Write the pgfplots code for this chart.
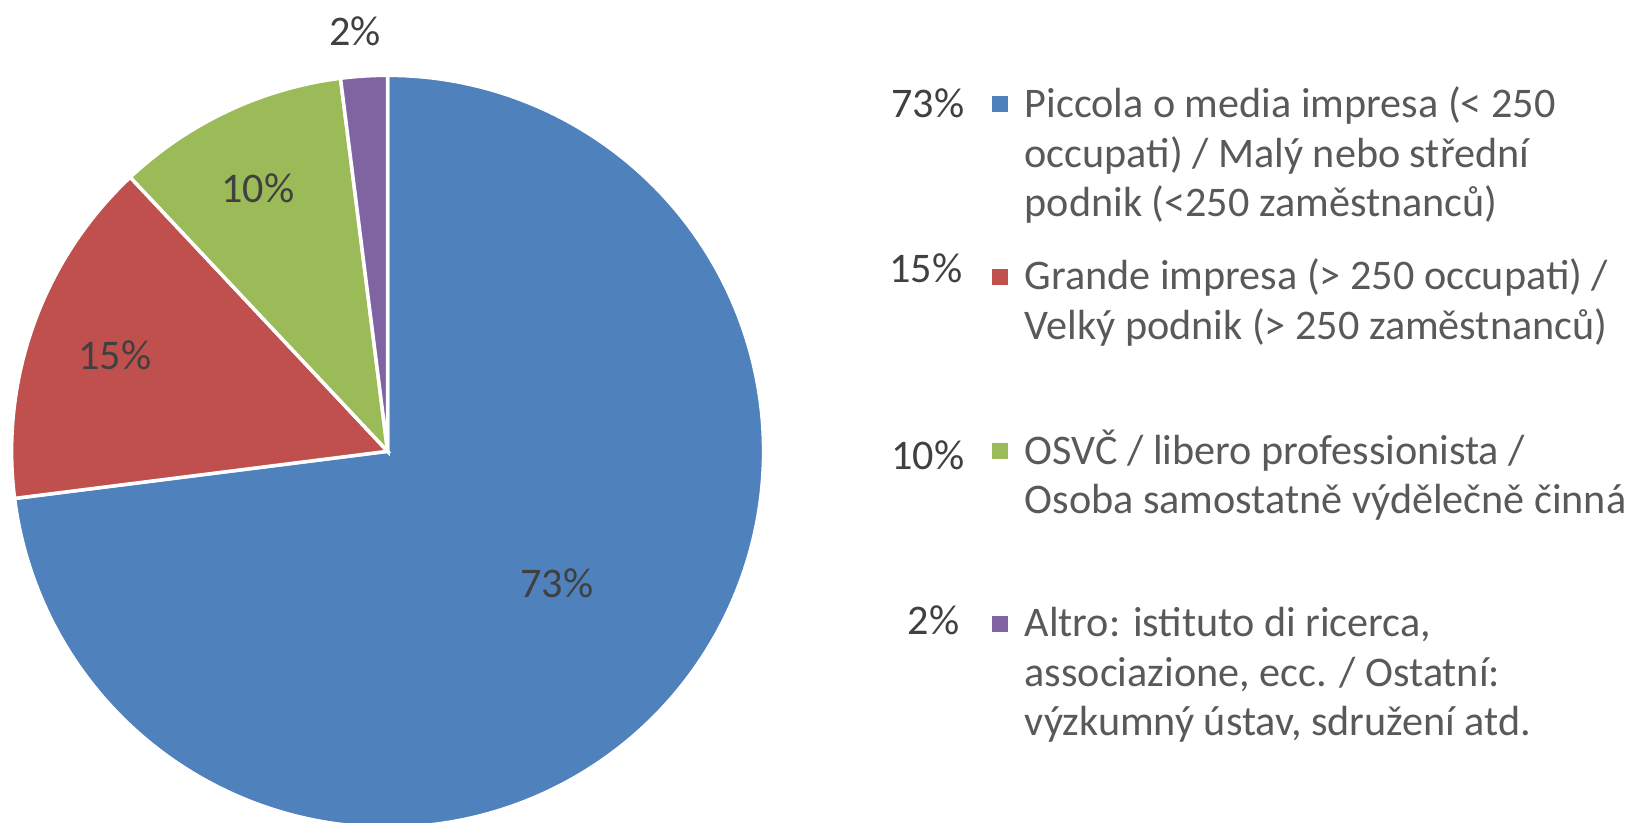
\documentclass[border=0pt]{standalone}
\usepackage{pgfplots}
\pgfplotsset{compat=1.18}
\usepackage{fontspec}
\setmainfont{Carlito}
\definecolor{cblue}{HTML}{4F81BD}
\definecolor{cred}{HTML}{C0504D}
\definecolor{cgreen}{HTML}{9BBB59}
\definecolor{cpurple}{HTML}{8064A2}
\definecolor{ltxt}{HTML}{595959}
\definecolor{ptxt}{HTML}{404040}
% shares in percent
\def\vA{73}\def\vB{15}\def\vC{10}\def\vD{2}
\begin{document}
\begin{tikzpicture}
\pgfmathsetmacro\aO{90}
\pgfmathsetmacro\aA{\aO-3.6*\vA}
\pgfmathsetmacro\aB{\aA-3.6*\vB}
\pgfmathsetmacro\aC{\aB-3.6*\vC}
\pgfmathsetmacro\aD{\aC-3.6*\vD}
\def\cx{387.6}\def\cy{451.3}\def\rr{376}
\begin{axis}[name=ax, hide axis, scale only axis,
  width=163.8mm, height=82.2mm,
  xmin=0, xmax=1638, ymin=0, ymax=822, y dir=reverse,
  clip=true]
\addplot[fill=cblue, draw=white, line width=1pt, domain=\aA:\aO, samples=180, variable=\t]
  ({\cx+\rr*cos(\t)}, {\cy-\rr*sin(\t)}) -- (axis cs:\cx,\cy) -- cycle;
\addplot[fill=cred, draw=white, line width=1pt, domain=\aB+360:\aA+360, samples=60, variable=\t]
  ({\cx+\rr*cos(\t)}, {\cy-\rr*sin(\t)}) -- (axis cs:\cx,\cy) -- cycle;
\addplot[fill=cgreen, draw=white, line width=1pt, domain=\aC+360:\aB+360, samples=40, variable=\t]
  ({\cx+\rr*cos(\t)}, {\cy-\rr*sin(\t)}) -- (axis cs:\cx,\cy) -- cycle;
\addplot[fill=cpurple, draw=white, line width=1pt, domain=\aD+360:\aC+360, samples=10, variable=\t]
  ({\cx+\rr*cos(\t)}, {\cy-\rr*sin(\t)}) -- (axis cs:\cx,\cy) -- cycle;
% data labels
\begin{scope}[every node/.style={font=\fontsize{12}{14}\selectfont, text=ptxt, inner sep=0pt}]
\node at (axis cs:557,583) {73\%};
\node at (axis cs:115,355) {15\%};
\node at (axis cs:258,188) {10\%};
\node at (axis cs:355,31) {2\%};
\end{scope}
% legend
\begin{scope}[every node/.style={font=\fontsize{12}{14}\selectfont, inner sep=0pt}]
\node[text=ptxt, anchor=base east] at (axis cs:965,117.5) {73\%};
\node[text=ptxt, anchor=base east] at (axis cs:963,282.5) {15\%};
\node[text=ptxt, anchor=base east] at (axis cs:965,469.5) {10\%};
\node[text=ptxt, anchor=base east] at (axis cs:960,634.5) {2\%};
\node[text=ltxt, anchor=base west] at (axis cs:1024,117.5) {Piccola o media impresa (< 250};
\node[text=ltxt, anchor=base west] at (axis cs:1024,167.1) {occupati) / Malý nebo střední};
\node[text=ltxt, anchor=base west] at (axis cs:1024,216.7) {podnik (<250 zaměstnanců)};
\node[text=ltxt, anchor=base west] at (axis cs:1024,289.8) {Grande impresa (> 250 occupati) /};
\node[text=ltxt, anchor=base west] at (axis cs:1024,339.4) {Velký podnik (> 250 zaměstnanců)};
\node[text=ltxt, anchor=base west] at (axis cs:1024,464.3) {OSVČ / libero professionista /};
\node[text=ltxt, anchor=base west] at (axis cs:1024,513.9) {Osoba samostatně výdělečně činná};
\node[text=ltxt, anchor=base west] at (axis cs:1024,636.6) {Altro: istituto di ricerca,};
\node[text=ltxt, anchor=base west] at (axis cs:1024,686.2) {associazione, ecc. / Ostatní:};
\node[text=ltxt, anchor=base west] at (axis cs:1024,735.8) {výzkumný ústav, sdružení atd.};
\end{scope}
\fill[cblue] (axis cs:992,96) rectangle (axis cs:1008,112);
\fill[cred] (axis cs:992,269) rectangle (axis cs:1008,285);
\fill[cgreen] (axis cs:992,443) rectangle (axis cs:1008,459);
\fill[cpurple] (axis cs:992,616) rectangle (axis cs:1008,632);
\end{axis}
\pgfresetboundingbox
\path (ax.south west) rectangle (ax.north east);
\end{tikzpicture}
\end{document}
